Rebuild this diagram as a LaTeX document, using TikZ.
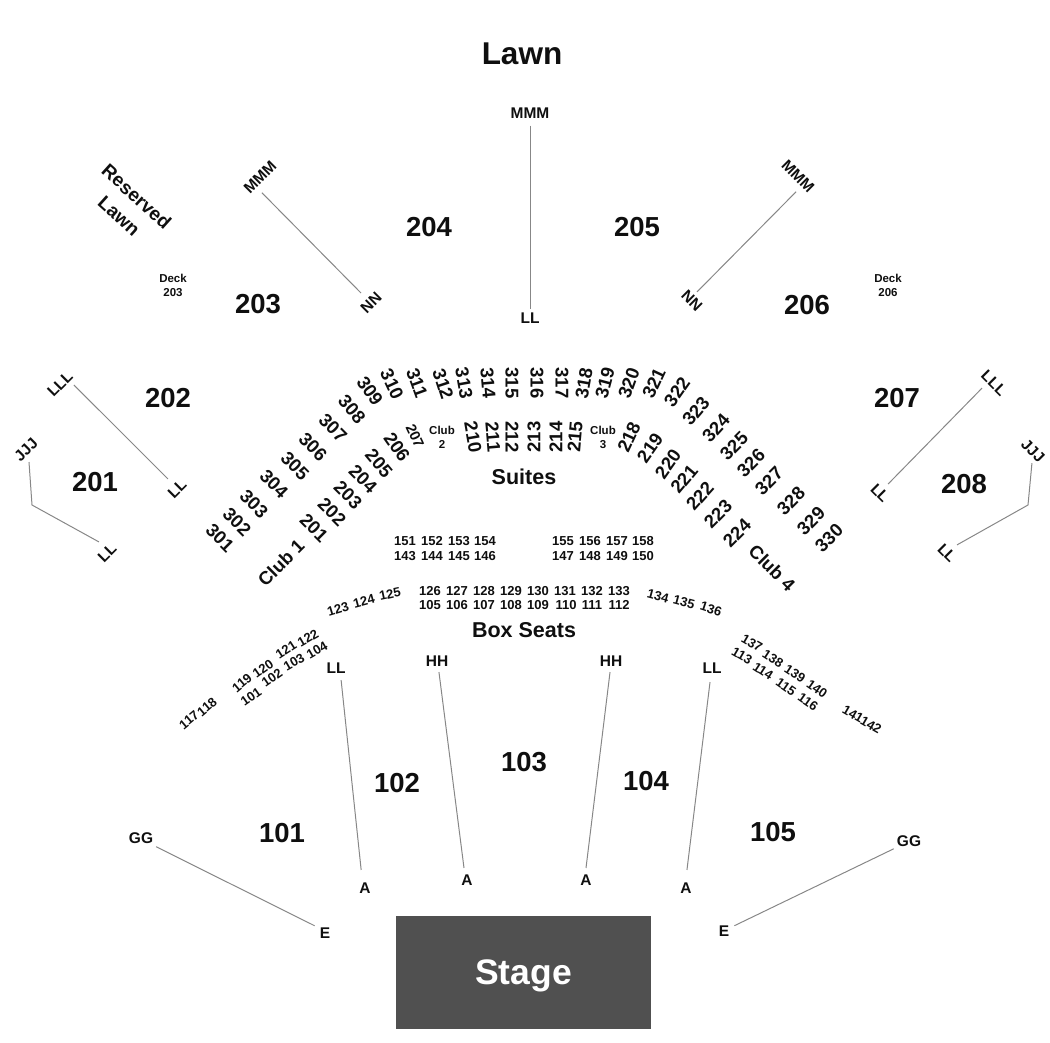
\documentclass[tikz,border=0pt]{standalone}
\usepackage{fontspec}
\setmainfont{Liberation Sans}
\definecolor{stagegray}{RGB}{80, 80, 80}
\definecolor{linegray}{RGB}{135, 135, 135}
\definecolor{inkblack}{RGB}{15, 15, 15}
\tikzset{
	title/.style = {text = inkblack, font = \fontsize{31.5}{33}\selectfont\bfseries},
	sect/.style = {text = inkblack, font = \fontsize{27.5}{29}\selectfont\bfseries},
	area/.style = {text = inkblack, align = center, font = \fontsize{21.5}{24}\selectfont\bfseries},
	clubname/.style = {text = inkblack, inner sep = 0pt, font = \fontsize{18.5}{20}\selectfont\bfseries},
	rowlabel/.style = {text = inkblack, inner sep = 4pt, font = \fontsize{15.5}{17}\selectfont\bfseries},
	seatL/.style = {text = inkblack, inner sep = 0pt, font = \fontsize{18.5}{20}\selectfont\bfseries},
	seatM/.style = {text = inkblack, inner sep = 0pt, font = \fontsize{13}{15}\selectfont\bfseries},
	tiny/.style = {text = inkblack, inner sep = 0pt, align = center, font = \fontsize{11.5}{14}\selectfont\bfseries},
	link/.style = {draw = linegray, line width = 1pt}
}
\begin{document}
\begin{tikzpicture}[x = 1pt, y = -1pt]
			\useasboundingbox (0,0) rectangle (1050,1042);
			% big names
			\node (lawn) at (522,54) [title] {Lawn};
			\node (resv) at (128,206) [area, rotate = -42, font = \fontsize{19}{23}\selectfont\bfseries] {Reserved\\[3pt]Lawn};
			\node (dk203) at (173,285) [tiny] {Deck\\203};
			\node (dk206) at (888,285) [tiny] {Deck\\206};
			\node (suites) at (524,477) [area] {Suites};
			\node (box) at (524,630) [area] {Box Seats};
			\node (club1) at (281,563) [clubname, rotate = 45] {Club 1};
			\node (club4) at (772,568) [clubname, rotate = -45] {Club 4};
			\node (club2) at (442,437) [tiny] {Club\\2};
			\node (club3) at (603,437) [tiny] {Club\\3};
			% sections
			\node (a204) at (429,227) [sect] {204};
			\node (a205) at (637,227) [sect] {205};
			\node (a203) at (258,304) [sect] {203};
			\node (a206) at (807,305) [sect] {206};
			\node (a202) at (168,398) [sect] {202};
			\node (a207) at (897,398) [sect] {207};
			\node (a201) at (95,482) [sect] {201};
			\node (a208) at (964,484) [sect] {208};
			\node (a102) at (397,783) [sect] {102};
			\node (a103) at (524,762) [sect] {103};
			\node (a104) at (646,781) [sect] {104};
			\node (a101) at (282,833) [sect] {101};
			\node (a105) at (773,832) [sect] {105};
			% stage
			\node (stage) at (523.5,972.5) [fill = stagegray, minimum width = 255pt, minimum height = 113pt, text depth = 0pt, text = white, font = \fontsize{35.5}{37}\selectfont\bfseries] {Stage};
			% row letters
			\node (mmmC) at (530,113) [rowlabel, inner sep = 7pt] {MMM};
			\node (llC) at (530,318) [rowlabel, inner sep = 3.5pt] {LL};
			\node (mmmL) at (260,177) [rowlabel, rotate = 45, inner sep = 7pt] {MMM};
			\node (nnL) at (371,303) [rowlabel, rotate = 45, inner sep = 8.5pt] {NN};
			\node (mmmR) at (798,176) [rowlabel, rotate = -45, inner sep = 7pt] {MMM};
			\node (nnR) at (692,301) [rowlabel, rotate = -45, inner sep = 4.5pt] {NN};
			\node (lllL) at (60,384) [rowlabel, rotate = 45, inner sep = 5pt] {LLL};
			\node (llL) at (177,489) [rowlabel, rotate = 45, inner sep = 8pt] {LL};
			\node (lllR) at (994,383) [rowlabel, rotate = -45, inner sep = 6.5pt] {LLL};
			\node (llR) at (880,493) [rowlabel, rotate = -45, inner sep = 6.5pt] {LL};
			\node (jjjL) at (26,450) [rowlabel, rotate = 45, inner sep = 5pt] {JJJ};
			\node (lljL) at (107,553) [rowlabel, rotate = 45, inner sep = 8pt] {LL};
			\node (jjjR) at (1033,451) [rowlabel, rotate = -45, inner sep = 3.7pt] {JJJ};
			\node (lljR) at (947,553) [rowlabel, rotate = -45, inner sep = 7.3pt] {LL};
			\node (ggL) at (141,838) [rowlabel, inner sep = 3pt] {GG};
			\node (eL) at (325,933) [rowlabel, inner sep = 5pt] {E};
			\node (ggR) at (909,841) [rowlabel, inner sep = 3pt] {GG};
			\node (eR) at (724,931) [rowlabel, inner sep = 5pt] {E};
			\node (ll1) at (336,668) [rowlabel, inner sep = 6.5pt] {LL};
			\node (a1) at (365,888) [rowlabel, inner sep = 12.5pt] {A};
			\node (hh1) at (437,661) [rowlabel, inner sep = 5.5pt] {HH};
			\node (a2) at (467,880) [rowlabel, inner sep = 6.5pt] {A};
			\node (hh2) at (611,661) [rowlabel, inner sep = 5.5pt] {HH};
			\node (a3) at (586,880) [rowlabel, inner sep = 6.5pt] {A};
			\node (ll2) at (712,668) [rowlabel, inner sep = 8.5pt] {LL};
			\node (a4) at (686,888) [rowlabel, inner sep = 12.5pt] {A};
			\coordinate (bendL) at (32,505);
			\coordinate (bendR) at (1028,505);
			% aisle lines
			\draw [link] (mmmC.south) -- (llC.north);
			\draw [link] (mmmL.-128) -- (nnL.north);
			\draw [link] (mmmR.-52) -- (nnR.106);
			\draw [link] (lllL.-49) -- (llL.87);
			\draw [link] (lllR.-112) -- (llR.93);
			\draw [link] (jjjL.-121) -- (bendL) -- (lljL.81);
			\draw [link] (jjjR.-50) -- (bendR) -- (lljR.84);
			\draw [link] (ggL.-30) -- (eL.145);
			\draw [link] (ggR.207) -- (eR.27);
			\draw [link] (ll1.-67) -- (a1.102);
			\draw [link] (hh1.-80) -- (a2.104);
			\draw [link] (hh2.-95) -- (a3.north);
			\draw [link] (ll2.-98) -- (a4.87);
			% outer arc
			\node (s301) at (220,538) [seatL, rotate = -45] {301};
			\node (s302) at (237,522) [seatL, rotate = -45] {302};
			\node (s303) at (254,504) [seatL, rotate = -45] {303};
			\node (s304) at (274,484) [seatL, rotate = -45] {304};
			\node (s305) at (295,466) [seatL, rotate = -45] {305};
			\node (s306) at (313,447) [seatL, rotate = -45] {306};
			\node (s307) at (333,428) [seatL, rotate = -45] {307};
			\node (s308) at (352,409) [seatL, rotate = -50] {308};
			\node (s309) at (370,391) [seatL, rotate = -55] {309};
			\node (s310) at (392,384) [seatL, rotate = -65] {310};
			\node (s311) at (417,383) [seatL, rotate = -70] {311};
			\node (s312) at (443,384) [seatL, rotate = -72] {312};
			\node (s313) at (464,383) [seatL, rotate = -80] {313};
			\node (s314) at (488,383) [seatL, rotate = -85] {314};
			\node (s315) at (512,383) [seatL, rotate = -90] {315};
			\node (s316) at (537,383) [seatL, rotate = -90] {316};
			\node (s317) at (562,383) [seatL, rotate = -90] {317};
			\node (s318) at (584,383) [seatL, rotate = 80] {318};
			\node (s319) at (605,383) [seatL, rotate = 75] {319};
			\node (s320) at (629,383) [seatL, rotate = 70] {320};
			\node (s321) at (654,383) [seatL, rotate = 65] {321};
			\node (s322) at (677,392) [seatL, rotate = 55] {322};
			\node (s323) at (696,411) [seatL, rotate = 50] {323};
			\node (s324) at (716,428) [seatL, rotate = 48] {324};
			\node (s325) at (734,446) [seatL, rotate = 45] {325};
			\node (s326) at (751,463) [seatL, rotate = 45] {326};
			\node (s327) at (769,481) [seatL, rotate = 45] {327};
			\node (s328) at (791,501) [seatL, rotate = 45] {328};
			\node (s329) at (811,521) [seatL, rotate = 45] {329};
			\node (s330) at (829,538) [seatL, rotate = 45] {330};
			% inner arc
			\node (c201) at (314,528) [seatL, rotate = -45] {201};
			\node (c202) at (332,512) [seatL, rotate = -45] {202};
			\node (c203) at (348,495) [seatL, rotate = -45] {203};
			\node (c204) at (363,479) [seatL, rotate = -45] {204};
			\node (c205) at (379,463) [seatL, rotate = -50] {205};
			\node (c206) at (397,447) [seatL, rotate = -55] {206};
			\node (c207) at (415,436) [inner sep = 0pt, text = inkblack, rotate = -65, font = \fontsize{14.5}{17}\selectfont\bfseries] {207};
			\node (c210) at (473,437) [seatL, rotate = -80] {210};
			\node (c211) at (493,437) [seatL, rotate = -85] {211};
			\node (c212) at (512,437) [seatL, rotate = -90] {212};
			\node (c213) at (534,437) [seatL, rotate = 90] {213};
			\node (c214) at (556,437) [seatL, rotate = 90] {214};
			\node (c215) at (575,437) [seatL, rotate = 85] {215};
			\node (c218) at (629,437) [seatL, rotate = 65] {218};
			\node (c219) at (650,448) [seatL, rotate = 55] {219};
			\node (c220) at (668,464) [seatL, rotate = 55] {220};
			\node (c221) at (684,479) [seatL, rotate = 50] {221};
			\node (c222) at (700,496) [seatL, rotate = 48] {222};
			\node (c223) at (718,514) [seatL, rotate = 45] {223};
			\node (c224) at (737,533) [seatL, rotate = 45] {224};
			% suites rows
			\node (t151) at (405,541) [seatM] {151};
			\node (t152) at (432,541) [seatM] {152};
			\node (t153) at (459,541) [seatM] {153};
			\node (t154) at (485,541) [seatM] {154};
			\node (t155) at (563,541) [seatM] {155};
			\node (t156) at (590,541) [seatM] {156};
			\node (t157) at (617,541) [seatM] {157};
			\node (t158) at (643,541) [seatM] {158};
			\node (t143) at (405,556) [seatM] {143};
			\node (t144) at (432,556) [seatM] {144};
			\node (t145) at (459,556) [seatM] {145};
			\node (t146) at (485,556) [seatM] {146};
			\node (t147) at (563,556) [seatM] {147};
			\node (t148) at (590,556) [seatM] {148};
			\node (t149) at (617,556) [seatM] {149};
			\node (t150) at (643,556) [seatM] {150};
			% box rows
			\node (b126) at (430,591) [seatM] {126};
			\node (b127) at (457,591) [seatM] {127};
			\node (b128) at (484,591) [seatM] {128};
			\node (b129) at (511,591) [seatM] {129};
			\node (b130) at (538,591) [seatM] {130};
			\node (b131) at (565,591) [seatM] {131};
			\node (b132) at (592,591) [seatM] {132};
			\node (b133) at (619,591) [seatM] {133};
			\node (b105) at (430,605) [seatM] {105};
			\node (b106) at (457,605) [seatM] {106};
			\node (b107) at (484,605) [seatM] {107};
			\node (b108) at (511,605) [seatM] {108};
			\node (b109) at (538,605) [seatM] {109};
			\node (b110) at (566,605) [seatM] {110};
			\node (b111) at (592,605) [seatM] {111};
			\node (b112) at (619,605) [seatM] {112};
			% left box wing
			\node (b123) at (338,609) [seatM, rotate = 17] {123};
			\node (b124) at (364,601) [seatM, rotate = 15] {124};
			\node (b125) at (390,594) [seatM, rotate = 12] {125};
			\node (b122) at (308,638) [seatM, rotate = 30] {122};
			\node (b121) at (286,650) [seatM, rotate = 33] {121};
			\node (b120) at (263,669) [seatM, rotate = 35] {120};
			\node (b119) at (242,683) [seatM, rotate = 40] {119};
			\node (b104) at (317,650) [seatM, rotate = 30] {104};
			\node (b103) at (294,662) [seatM, rotate = 30] {103};
			\node (b102) at (272,678) [seatM, rotate = 35] {102};
			\node (b101) at (251,697) [seatM, rotate = 35] {101};
			\node (b117) at (189,720) [seatM, rotate = 40] {117};
			\node (b118) at (207,707) [seatM, rotate = 40] {118};
			% right box wing
			\node (b134) at (658,596) [seatM, rotate = -15] {134};
			\node (b135) at (684,602) [seatM, rotate = -15] {135};
			\node (b136) at (711,609) [seatM, rotate = -18] {136};
			\node (b137) at (752,643) [seatM, rotate = -30] {137};
			\node (b138) at (773,659) [seatM, rotate = -33] {138};
			\node (b139) at (795,674) [seatM, rotate = -33] {139};
			\node (b140) at (817,689) [seatM, rotate = -35] {140};
			\node (b113) at (742,656) [seatM, rotate = -30] {113};
			\node (b114) at (763,671) [seatM, rotate = -33] {114};
			\node (b115) at (786,687) [seatM, rotate = -35] {115};
			\node (b116) at (808,702) [seatM, rotate = -35] {116};
			\node (b141) at (853,714) [seatM, rotate = -30] {141};
			\node (b142) at (871,725) [seatM, rotate = -30] {142};
			\end{tikzpicture}
\end{document}
